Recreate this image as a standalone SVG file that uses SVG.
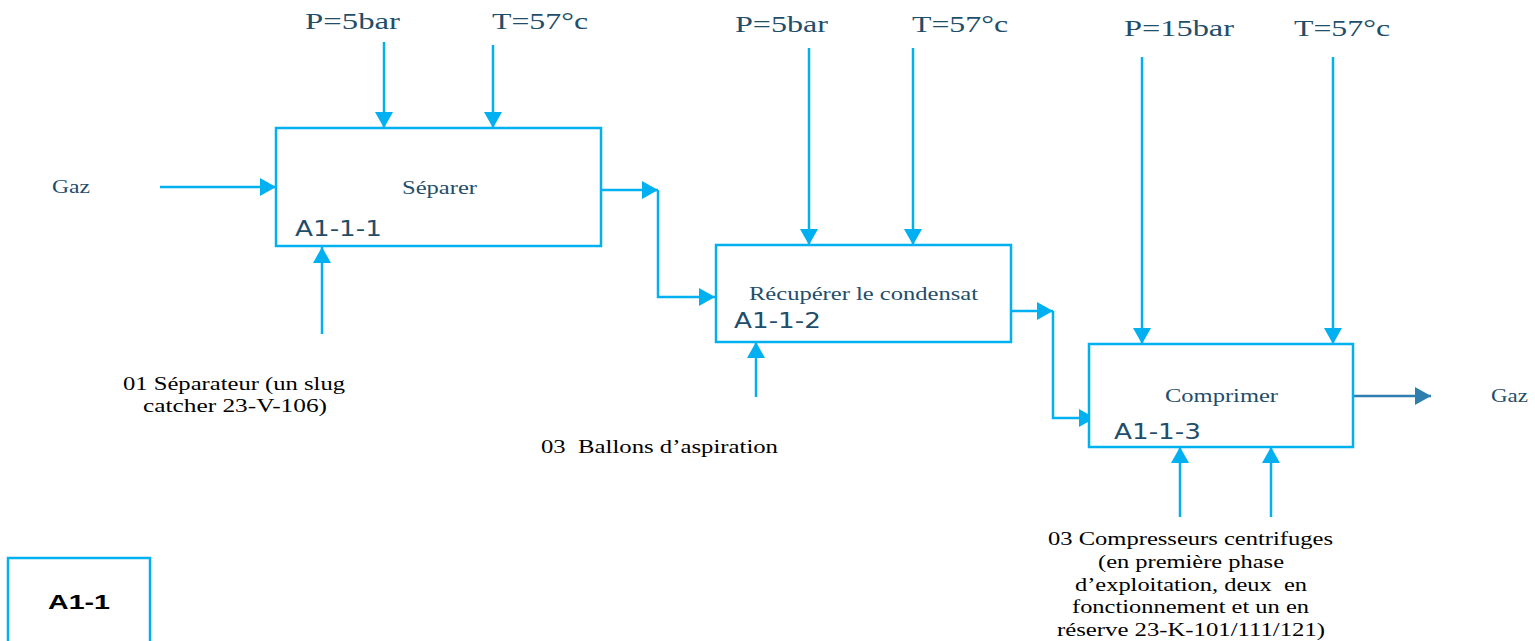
<svg xmlns="http://www.w3.org/2000/svg" width="1535" height="641" viewBox="0 0 1535 641">
<defs>
<marker id="ah" markerUnits="userSpaceOnUse" markerWidth="18" markerHeight="18" viewBox="0 0 16 18" refX="16" refY="9" orient="auto"><path d="M0,0 L16,9 L0,18 Z" fill="#00b0f0"/></marker>
<marker id="ahd" markerUnits="userSpaceOnUse" markerWidth="18" markerHeight="18" viewBox="0 0 16 18" refX="16" refY="9" orient="auto"><path d="M0,0 L16,9 L0,18 Z" fill="#2e7fb0"/></marker>
<style>
.box{fill:#fff;stroke:#00b0f0;stroke-width:2.5}
.ln{fill:none;stroke:#00b0f0;stroke-width:2.5;marker-end:url(#ah)}
.pt{font-family:"Liberation Serif",serif;font-size:24px;fill:#1f4e6b}
.nm{font-family:"Liberation Serif",serif;font-size:19px;fill:#1f4e6b}
.id{font-family:"DejaVu Sans","Liberation Sans",sans-serif;font-size:21px;fill:#1f4e6b}
.lb{font-family:"Liberation Serif",serif;font-size:18px;fill:#000;white-space:pre}
</style>
</defs>
<rect width="1535" height="641" fill="#fff"/>
<g id="connectors">
<path class="ln" d="M160,187 H276"/>
<path class="ln" d="M384,42 V128"/>
<path class="ln" d="M493,45 V128"/>
<path class="ln" d="M322,334 V247"/>
<path class="ln" d="M601,190 H658"/>
<path class="ln" d="M658,190 V297 H715"/>
<path class="ln" d="M809,48 V245"/>
<path class="ln" d="M913,48 V245"/>
<path class="ln" d="M756,397 V342"/>
<path class="ln" d="M1011,311 H1053"/>
<path class="ln" d="M1053,311 V418 H1095"/>
<path class="ln" d="M1142,57 V344"/>
<path class="ln" d="M1333,57 V344"/>
<path class="ln" d="M1180,517 V447"/>
<path class="ln" d="M1271,517 V447"/>
<path d="M1353,396 H1431" fill="none" stroke="#2e7fb0" stroke-width="2.5" marker-end="url(#ahd)"/>
</g>
<g id="node-A1-1-1">
<rect class="box" x="276" y="128" width="325" height="118"/>
<text class="nm" x="402" y="194" textLength="75" lengthAdjust="spacingAndGlyphs">Séparer</text>
<text class="id" x="295" y="236" textLength="87" lengthAdjust="spacingAndGlyphs">A1-1-1</text>
</g>
<g id="node-A1-1-2">
<rect class="box" x="716" y="245" width="295" height="97"/>
<text class="nm" x="749" y="300" textLength="229" lengthAdjust="spacingAndGlyphs">Récupérer le condensat</text>
<text class="id" x="734" y="328" textLength="87" lengthAdjust="spacingAndGlyphs">A1-1-2</text>
</g>
<g id="node-A1-1-3">
<rect class="box" x="1089" y="344" width="264" height="103"/>
<text class="nm" x="1165" y="402" textLength="113" lengthAdjust="spacingAndGlyphs">Comprimer</text>
<text class="id" x="1114" y="439" textLength="87" lengthAdjust="spacingAndGlyphs">A1-1-3</text>
</g>
<g id="node-A1-1">
<rect class="box" x="8" y="558" width="142" height="100"/>
<text x="48" y="609" font-family="'Liberation Sans',sans-serif" font-weight="bold" font-size="21" fill="#000" textLength="62" lengthAdjust="spacingAndGlyphs">A1-1</text>
</g>
<g id="labels">
<text class="pt" x="305" y="29" textLength="95" lengthAdjust="spacingAndGlyphs">P=5bar</text>
<text class="pt" x="492" y="29" textLength="96" lengthAdjust="spacingAndGlyphs">T=57°c</text>
<text class="pt" x="735" y="32" textLength="93" lengthAdjust="spacingAndGlyphs">P=5bar</text>
<text class="pt" x="912" y="32" textLength="96" lengthAdjust="spacingAndGlyphs">T=57°c</text>
<text class="pt" x="1124" y="36" textLength="110" lengthAdjust="spacingAndGlyphs">P=15bar</text>
<text class="pt" x="1294" y="36" textLength="96" lengthAdjust="spacingAndGlyphs">T=57°c</text>
<text class="nm" x="52" y="193" textLength="38" lengthAdjust="spacingAndGlyphs">Gaz</text>
<text class="nm" x="1491" y="402" textLength="37" lengthAdjust="spacingAndGlyphs">Gaz</text>
<text class="lb" x="123" y="390" textLength="222" lengthAdjust="spacingAndGlyphs">01 Séparateur (un slug</text>
<text class="lb" x="143" y="412" textLength="184" lengthAdjust="spacingAndGlyphs">catcher 23-V-106)</text>
<text class="lb" x="541" y="453" textLength="237" lengthAdjust="spacingAndGlyphs" xml:space="preserve">03  Ballons d’aspiration</text>
<text class="lb" x="1048" y="545" textLength="285" lengthAdjust="spacingAndGlyphs">03 Compresseurs centrifuges</text>
<text class="lb" x="1098" y="568" textLength="186" lengthAdjust="spacingAndGlyphs">(en première phase</text>
<text class="lb" x="1075" y="591" textLength="232" lengthAdjust="spacingAndGlyphs" xml:space="preserve">d’exploitation, deux  en</text>
<text class="lb" x="1072" y="613" textLength="237" lengthAdjust="spacingAndGlyphs">fonctionnement et un en</text>
<text class="lb" x="1057" y="636" textLength="268" lengthAdjust="spacingAndGlyphs">réserve 23-K-101/111/121)</text>
</g>
</svg>
